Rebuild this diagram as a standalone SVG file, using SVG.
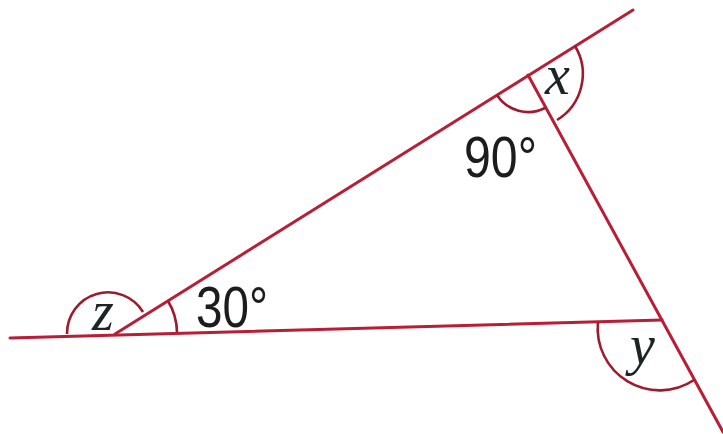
<svg xmlns="http://www.w3.org/2000/svg" width="723" height="434" viewBox="0 0 723 434">
<style>
.ln{stroke:#b81e35;stroke-width:3;fill:none;stroke-linecap:round}
.arc{stroke:#9e1b2e;stroke-width:2.6;fill:none}
.var{font-family:"Liberation Serif","DejaVu Serif",serif;font-style:italic;font-size:56px;fill:#1c2424}
.deg{font-family:"Liberation Sans","DejaVu Sans",sans-serif;font-size:58px;fill:#1c1c1c}
</style>
<rect width="723" height="434" fill="#ffffff"/>
<g id="connectors">
<line class="ln" x1="10" y1="338" x2="662" y2="320"/>
<line class="ln" x1="115" y1="334" x2="633" y2="10"/>
<line class="ln" x1="528" y1="75" x2="723" y2="432"/>
</g>
<g id="angle-z">
<path class="arc" d="M67,334 A41,41 0 0 1 143,312"/>
<text class="var" x="92" y="330">z</text>
</g>
<g id="angle-30">
<path class="arc" d="M177,332 A62,62 0 0 0 168,301"/>
<text class="deg" x="196" y="327" textLength="72" lengthAdjust="spacingAndGlyphs">30°</text>
</g>
<g id="angle-90">
<path class="arc" d="M497,95 A37,37 0 0 0 545,108"/>
<text class="deg" x="464" y="177" textLength="73" lengthAdjust="spacingAndGlyphs">90°</text>
</g>
<g id="angle-x">
<path class="arc" d="M575,46 A54,54 0 0 1 557,120"/>
<text class="var" x="545" y="94">x</text>
</g>
<g id="angle-y">
<path class="arc" d="M598,322 A62,62 0 0 0 694,380"/>
<text class="var" x="630" y="364">y</text>
</g>
</svg>
